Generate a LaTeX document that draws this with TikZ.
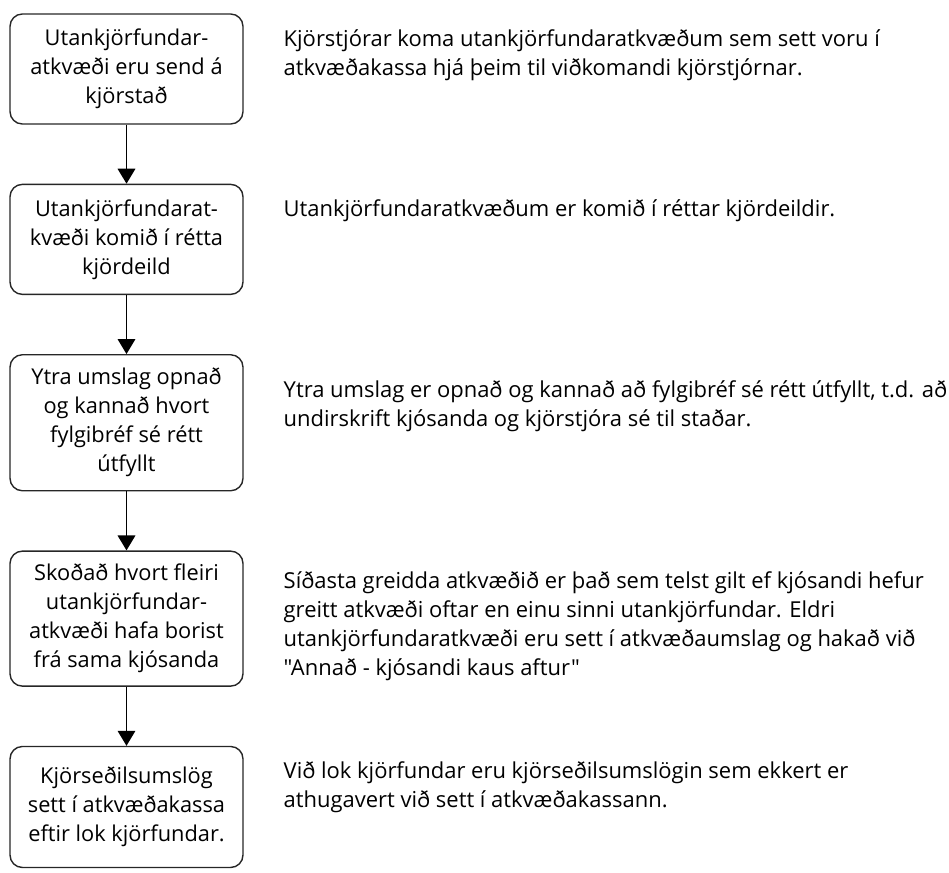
\documentclass[tikz,border=0pt]{standalone}
\usepackage{fontspec}
\setmainfont{Open Sans}[Ligatures=TeXOff]
\usepackage{tikz}
\usetikzlibrary{arrows.meta,positioning}
\tikzstyle{stepbox}=[draw=black!85, thick, rounded corners=7pt, align=center, minimum width=4.66cm, minimum height=2.2cm, inner sep=2pt, font=\fontsize{12.4}{16.5}\selectfont]
\tikzstyle{note}=[anchor=west, align=left, inner sep=0pt, font=\fontsize{12.5}{16.5}\selectfont]

\begin{document}
\begin{tikzpicture}
[->,thick,>={Triangle[length=8.5pt,width=10pt]}, x=0.02cm, y=-0.02cm, node distance=1.18cm]
 \useasboundingbox (0,0) rectangle (949,872);
 \node[stepbox] (s1) at (126.5,69) {Utankjörfundar-\\atkvæði eru send á\\kjörstað};
 \node[stepbox] (s2) [below=of s1] {Utankjörfundarat-\\kvæði komið í rétta\\kjördeild};
 \node[stepbox, minimum height=2.72cm] (s3) [below=of s2] {Ytra umslag opnað\\og kannað hvort\\fylgibréf sé rétt\\útfyllt};
 \node[stepbox, minimum height=2.7cm] (s4) [below=of s3] {Skoðað hvort fleiri\\utankjörfundar-\\atkvæði hafa borist\\frá sama kjósanda};
 \node[stepbox, minimum height=2.42cm] (s5) [below=of s4] {Kjörseðilsumslög\\sett í atkvæðakassa\\eftir lok kjörfundar.};
 \node[note] (n1) at (283,55.5) {Kjörstjórar koma utankjörfundaratkvæðum sem sett voru í\\atkvæðakassa hjá þeim til viðkomandi kjörstjórnar.};
 \node[note] (n2) at (283,211) {Utankjörfundaratkvæðum er komið í réttar kjördeildir.};
 \node[note] (n3) at (283,406.5) {Ytra umslag er opnað og kannað að fylgibréf sé rétt útfyllt, t.d. að\\undirskrift kjósanda og kjörstjóra sé til staðar.};
 \node[note] (n4) at (283,626.5) {Síðasta greidda atkvæðið er það sem telst gilt ef kjósandi hefur\\greitt atkvæði oftar en einu sinni utankjörfundar. Eldri\\utankjörfundaratkvæði eru sett í atkvæðaumslag og hakað við\\"Annað - kjósandi kaus aftur"};
 \node[note] (n5) at (283,787.5) {Við lok kjörfundar eru kjörseðilsumslögin sem ekkert er\\athugavert við sett í atkvæðakassann.};
 \path[]
   (s1) edge node {} (s2)
   (s2) edge node {} (s3)
   (s3) edge node {} (s4)
   (s4) edge node {} (s5);
\end{tikzpicture}
\end{document}
